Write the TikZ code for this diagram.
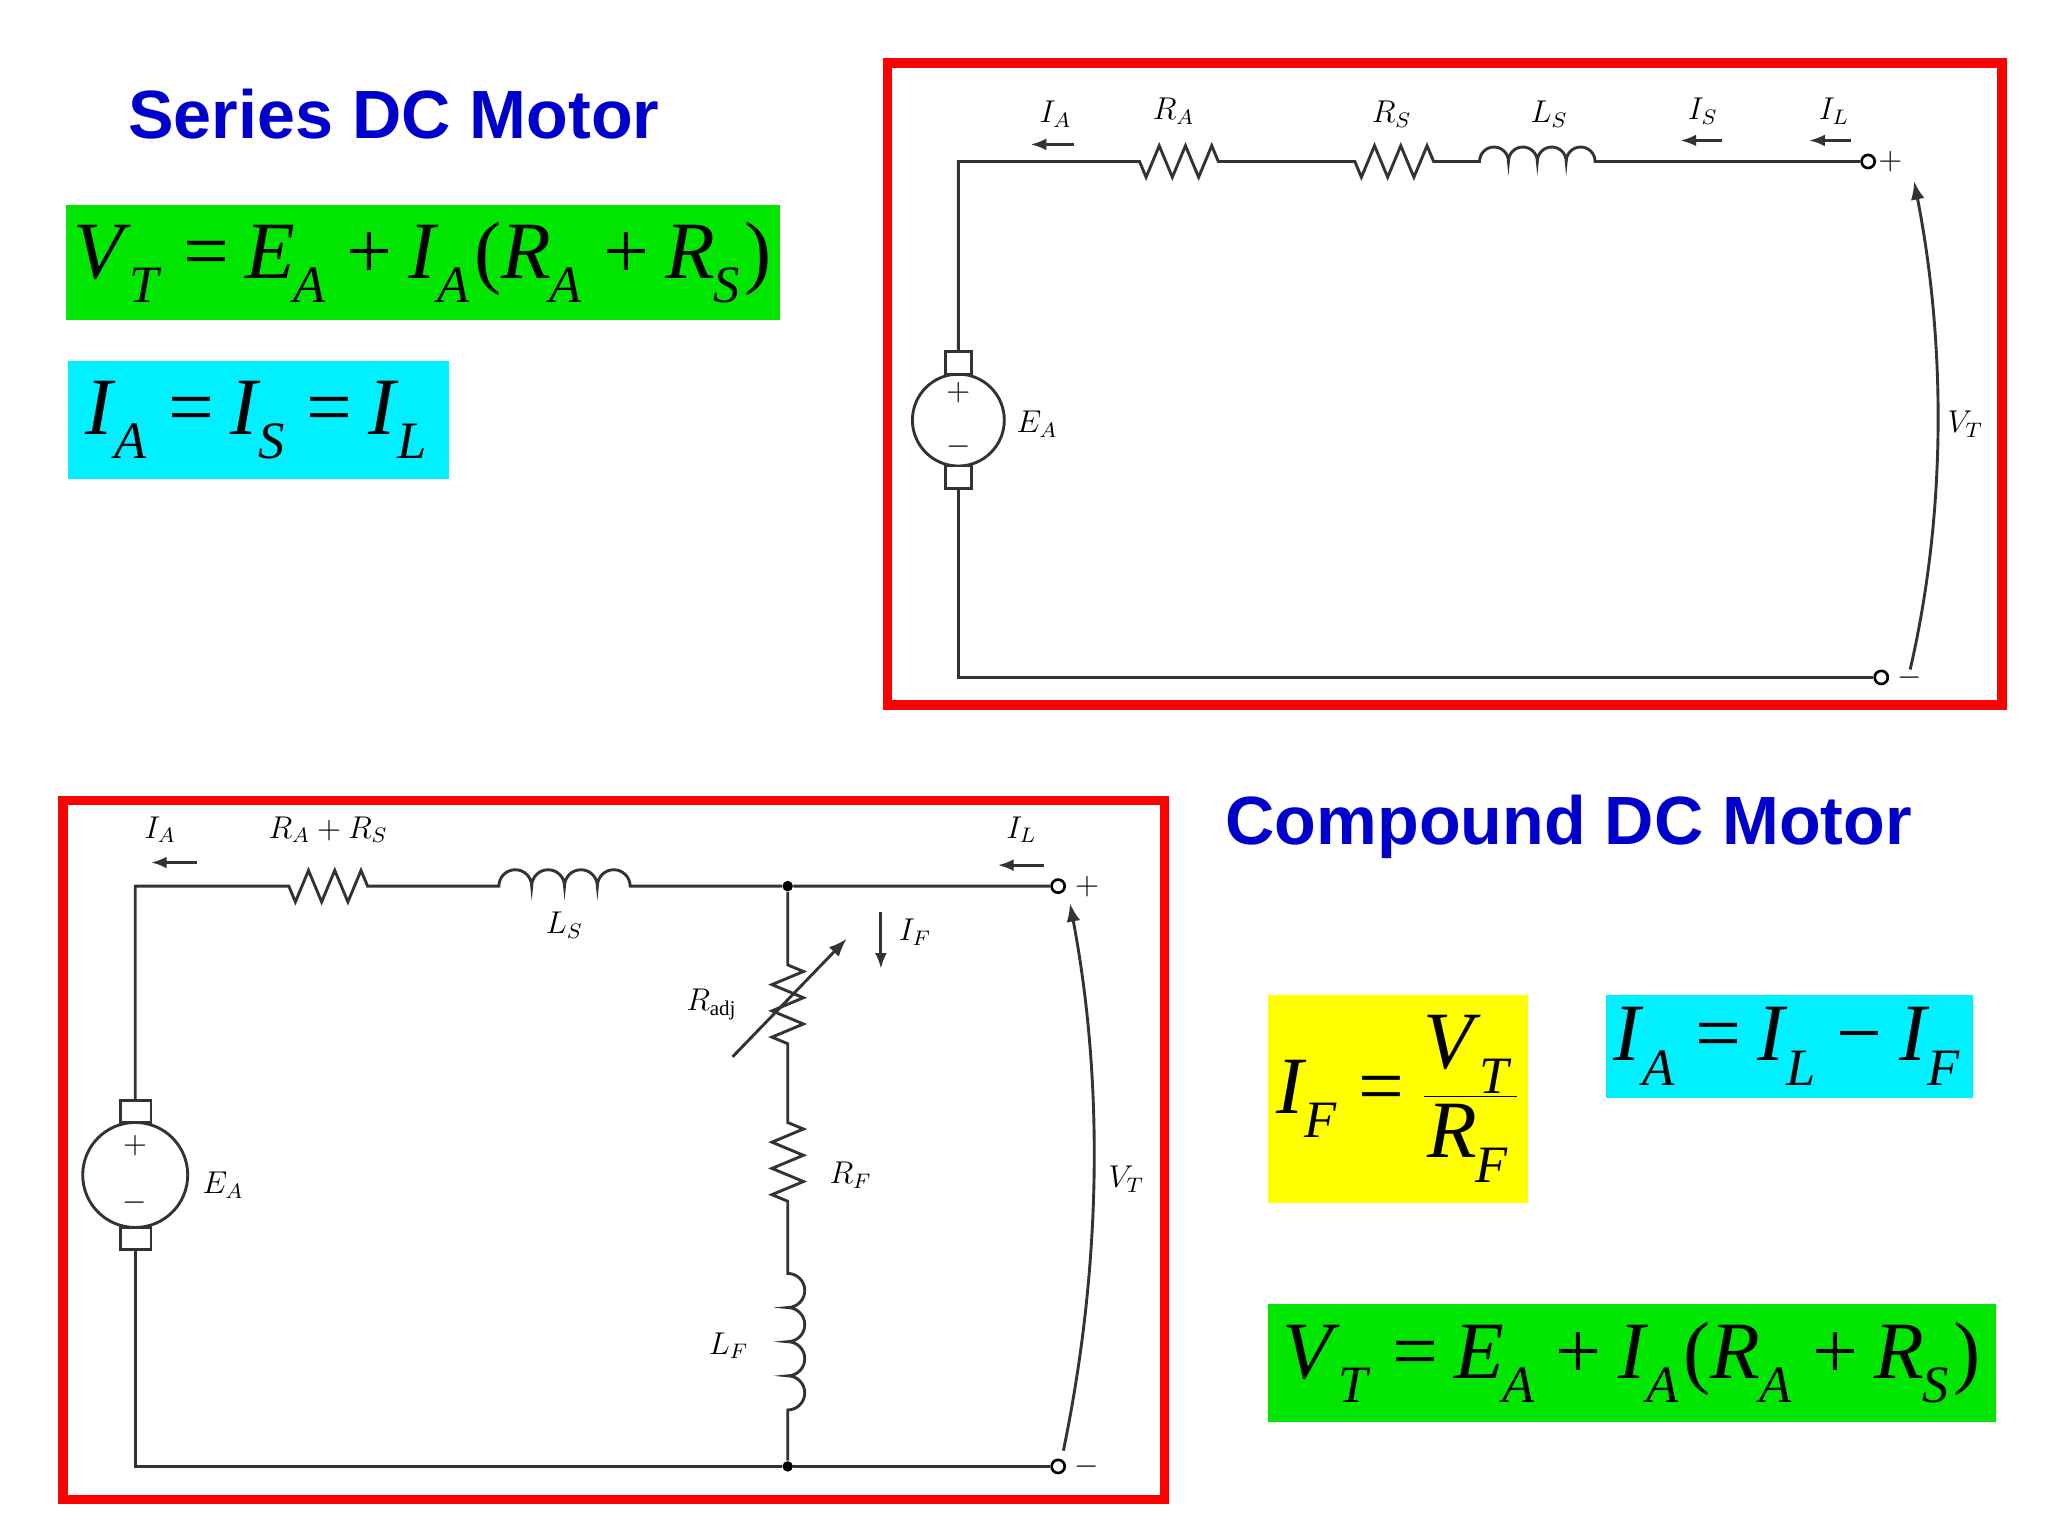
\documentclass[tikz,border=0pt]{standalone}
\usepackage{fontspec}
\setmainfont{Liberation Serif}
\newfontfamily\titlefont{Liberation Sans}
\usetikzlibrary{arrows.meta}
\definecolor{tblue}{RGB}{0,0,205}
\definecolor{eqgreen}{RGB}{0,230,0}
\definecolor{eqcyan}{RGB}{0,240,255}
\definecolor{eqyellow}{RGB}{255,255,0}
\tikzset{
 wire/.style={line width=1.1pt,black!80},
 frame/.style={draw=red,line width=3.5pt},
 ttl/.style={font=\titlefont\bfseries\fontsize{26}{30}\selectfont,text=tblue},
 eq/.style={font=\fontsize{31}{34}\selectfont,inner sep=3pt},
 lbl/.style={font=\itshape\fontsize{12}{14}\selectfont},
 term/.style={circle,draw,line width=1pt,inner sep=0pt,minimum size=5pt,fill=white},
 carrow/.style={wire,-{Latex[length=7pt]}},
 sarrow/.style={wire,-{Latex[length=6pt]}}
}
\newcommand{\vs}[2]{\textit{#1}\kern-0.02em\raisebox{-0.3em}{\fontsize{20}{20}\selectfont\textit{#2}}\kern0.06em}
\newcommand{\op}[1]{\kern0.2em#1\kern0.2em}
\newcommand{\hres}{-- ++(5,12) -- ++(10,-24) -- ++(10,24) -- ++(10,-24) -- ++(10,24) -- ++(10,-24) -- ++(5,12)}
\newcommand{\vres}{-- ++(12,5) -- ++(-24,10) -- ++(24,10) -- ++(-24,10) -- ++(24,10) -- ++(-24,10) -- ++(12,5)}
\begin{document}
\begin{tikzpicture}[x=0.5pt,y=-0.5pt]
\useasboundingbox (0,0) rectangle (1560,1170);
\fill[white] (0,0) rectangle (1560,1170);
% titles
\node[ttl] (t1) at (300,87) {Series DC Motor};
\node[ttl] (t2) at (1195,630) {Compound DC Motor};
% equations
\node[eq,fill=eqgreen,minimum width=270pt,minimum height=44pt] (e1) at (322,200) {\vs{V}{T}\op{=}\vs{E}{A}\op{+}\vs{I}{A}(\vs{R}{A}\op{+}\vs{R}{S})};
\node[eq,fill=eqcyan,minimum width=145pt,minimum height=45pt] (e2) at (197,320) {\vs{I}{A}\op{=}\vs{I}{S}\op{=}\vs{I}{L}};
\node[eq,fill=eqyellow,minimum width=98pt,minimum height=79pt] (e3) at (1065,837) {$\hbox{\vs{I}{F}\op{=}}\displaystyle\frac{\hbox{\vs{V}{T}}}{\hbox{\vs{R}{F}}}$};
\node[eq,fill=eqcyan,minimum width=135pt,minimum height=39pt] (e4) at (1363,797) {\vs{I}{A}\op{=}\vs{I}{L}\op{−}\vs{I}{F}};
\node[eq,fill=eqgreen,minimum width=277pt,minimum height=45pt] (e5) at (1243,1038) {\vs{V}{T}\op{=}\vs{E}{A}\op{+}\vs{I}{A}(\vs{R}{A}\op{+}\vs{R}{S})};
% frames
\draw[frame] (676,48) rectangle (1525,537);
\draw[frame] (48,610) rectangle (887,1142);
% ---------- Series circuit ----------
\coordinate (s1) at (730,123);
\node[term] (sp) at (1423,123) {};
\node[term] (sm) at (1433,516) {};
\coordinate (m1) at (730,320);
\draw[wire] (m1) circle (35);
\draw[wire,fill=white] (720,268) rectangle (740,285);
\draw[wire,fill=white] (720,355) rectangle (740,372);
\node[font=\fontsize{12}{12}\selectfont] at (730,299) {$+$};
\node[font=\fontsize{12}{12}\selectfont] at (730,340) {$-$};
\draw[wire] (730,268) -- (s1) -- (868,123) \hres -- (1032,123) \hres -- (1127,123)
  arc (180:360:11) arc (180:360:11) arc (180:360:11) arc (180:360:11) -- (sp);
\draw[wire] (730,372) -- (730,516) -- (sm);
\node[lbl] at (1440,123) {$+$};
\node[lbl] at (1455,516) {$-$};
\draw[carrow] (1455,510) .. controls (1485,380) and (1480,250) .. (1458,138);
\node[lbl] at (1497,323) {$V_T$};
\node[lbl] at (790,323) {$E_A$};
\node[lbl] at (804,87) {$I_A$};
\draw[sarrow] (818,110) -- (785,110);
\node[lbl] at (894,85) {$R_A$};
\node[lbl] at (1060,87) {$R_S$};
\node[lbl] at (1180,87) {$L_S$};
\node[lbl] at (1297,85) {$I_S$};
\draw[sarrow] (1312,107) -- (1280,107);
\node[lbl] at (1397,85) {$I_L$};
\draw[sarrow] (1410,107) -- (1378,107);
% ---------- Compound circuit ----------
\coordinate (c1) at (103,675);
\node[circle,fill,inner sep=0pt,minimum size=4pt] (j1) at (600,675) {};
\node[circle,fill,inner sep=0pt,minimum size=4pt] (j2) at (600,1117) {};
\node[term] (cp) at (806,675) {};
\node[term] (cm) at (806,1117) {};
\draw[wire] (103,895) circle (40);
\draw[wire,fill=white] (92,838) rectangle (115,855);
\draw[wire,fill=white] (92,935) rectangle (115,952);
\node[font=\fontsize{12}{12}\selectfont] at (103,873) {$+$};
\node[font=\fontsize{12}{12}\selectfont] at (103,916) {$-$};
\draw[wire] (103,838) -- (c1) -- (220,675) \hres -- (380,675)
  arc (180:360:12.5) arc (180:360:12.5) arc (180:360:12.5) arc (180:360:12.5) -- (j1) -- (cp);
\draw[wire] (103,952) -- (103,1117) -- (j2) -- (cm);
\draw[wire] (j1) -- (600,735) \vres -- (600,855) \vres -- (600,970)
  arc (-90:90:13) arc (-90:90:13) arc (-90:90:13) arc (-90:90:13) -- (j2);
\draw[carrow] (558,805) -- (645,715);
\draw[sarrow] (671,695) -- (671,738);
\node[lbl] at (697,710) {$I_F$};
\node[lbl] at (542,765) {$R_{\mathrm{adj}}$};
\node[lbl] at (648,895) {$R_F$};
\node[lbl] at (555,1025) {$L_F$};
\node[lbl] at (430,705) {$L_S$};
\node[lbl] at (250,632) {$R_A + R_S$};
\node[lbl] at (122,632) {$I_A$};
\draw[sarrow] (150,657) -- (115,657);
\node[lbl] at (778,632) {$I_L$};
\draw[sarrow] (795,659) -- (760,659);
\node[lbl] at (828,675) {$+$};
\node[lbl] at (828,1117) {$-$};
\node[lbl] at (170,903) {$E_A$};
\draw[carrow] (810,1105) .. controls (840,960) and (840,820) .. (815,688);
\node[lbl] at (858,898) {$V_T$};
\end{tikzpicture}
\end{document}
